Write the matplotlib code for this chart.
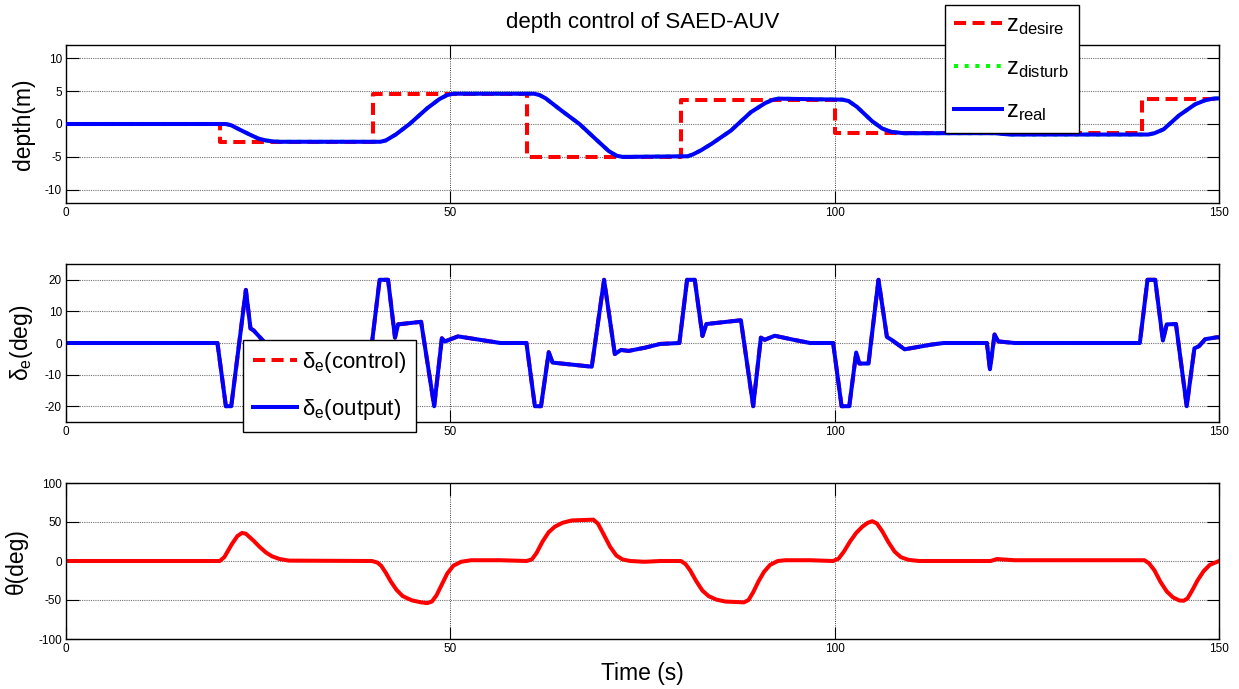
import matplotlib.pyplot as plt

plt.rcParams['font.family'] = ['Liberation Sans', 'DejaVu Sans']
plt.rcParams['mathtext.fontset'] = 'custom'
plt.rcParams['mathtext.rm'] = 'Liberation Sans'
plt.rcParams['mathtext.it'] = 'Liberation Sans'
plt.rcParams['axes.unicode_minus'] = False

# =========================
# data
# =========================
# depth: desired step command
t_desire = [0, 20, 20, 40, 40, 60, 60, 80, 80, 100, 100, 140, 140, 150]
z_desire = [0, 0, -2.7, -2.7, 4.6, 4.6, -5.0, -5.0, 3.7, 3.7, -1.3, -1.3, 3.85, 3.85]

# depth: real response
t_real = [0, 20.8, 21.5, 22.5, 23.9, 25.0, 26.0, 27.0, 27.8, 40.9, 41.6, 42.9, 44.7,
          47.0, 48.6, 49.6, 50.4, 60.9, 61.6, 62.4, 64.5, 66.8, 69.1, 70.6, 71.6,
          72.4, 80.9, 81.6, 82.6, 84.0, 86.5, 89.1, 91.0, 92.0, 92.7, 95.2, 101.0,
          101.8, 102.9, 104.9, 106.2, 107.4, 109.0, 120.8, 122.8, 140.8, 141.6,
          142.8, 144.8, 146.9, 148.2, 149.2, 150]
z_real = [0, 0, -0.2, -0.8, -1.6, -2.2, -2.5, -2.65, -2.7, -2.7, -2.5, -1.6, 0.0,
          2.4, 3.8, 4.4, 4.6, 4.6, 4.4, 3.9, 2.0, 0.0, -2.5, -4.1, -4.8,
          -5.0, -4.9, -4.6, -4.0, -3.0, -1.0, 1.8, 3.2, 3.7, 3.85, 3.8, 3.7,
          3.5, 2.6, 0.4, -0.7, -1.2, -1.4, -1.4, -1.6, -1.6, -1.4,
          -0.8, 1.3, 3.0, 3.6, 3.85, 3.9]

# elevator angle (control and output coincide)
t_de = [0, 19.7, 20.8, 21.5, 23.4, 24.0, 24.4, 26.4, 29.5, 32.1, 39.8, 40.8, 41.9,
        42.8, 43.2, 46.2, 47.9, 48.9, 49.3, 51.0, 56.5, 59.9, 61.0, 61.8, 62.8,
        63.3, 68.4, 70.0, 71.4, 72.2, 73.2, 75.3, 77.3, 79.8, 80.8, 81.8, 82.8,
        83.3, 87.8, 89.4, 90.4, 90.9, 92.2, 94.7, 96.8, 99.8, 100.9, 101.9, 102.8,
        103.2, 104.4, 105.7, 106.8, 107.4, 109.1, 112.6, 114.2, 119.8, 120.2,
        120.8, 121.3, 123.4, 139.7, 140.7, 141.7, 142.7, 143.2, 144.4, 145.8,
        146.8, 147.4, 148.2, 149.7, 150]
de = [0, 0, -20, -20, 16.8, 4.6, 4.0, -1.3, -1.0, 0, 0, 20, 20,
      1.7, 5.9, 6.7, -20, 1.5, 0.5, 2.1, 0, 0, -20, -20, -2.9,
      -6.2, -7.5, 20, -3.5, -2.2, -2.5, -1.5, -0.3, 0, 20, 20, 2.2,
      6.0, 7.2, -20, 1.7, 1.0, 2.3, 1.0, 0, 0, -20, -20, -3.0,
      -6.5, -6.5, 20, 1.9, 1.0, -2.0, -0.5, 0, 0, -8.3,
      2.7, 0.5, 0, 0, 20, 20, 0.8, 5.9, 6.0, -20,
      -1.7, -1.0, 1.2, 1.8, 1.8]

# pitch angle
t_theta = [0, 20.0, 20.6, 21.6, 22.3, 22.9, 23.4, 24.4, 25.2, 26.0, 26.8, 27.8,
           29.0, 39.8, 40.5, 41.0, 41.6, 42.3, 43.0, 43.8, 45.0, 46.2, 47.0, 47.6,
           48.2, 48.9, 49.6, 50.4, 51.4, 52.7, 56.5, 59.9, 60.6, 61.2, 62.0,
           62.8, 63.6, 64.6, 65.8, 68.6, 69.2, 69.9, 70.8, 71.6, 72.4, 73.4,
           75.3, 77.3, 80.0, 80.6, 81.2, 82.0, 82.8, 83.6, 84.6, 85.8, 88.2,
           88.8, 89.4, 90.1, 90.8, 91.6, 92.6, 93.6, 96.8, 99.8, 100.5, 101.2,
           102.0, 102.8, 103.6, 104.3, 104.9, 105.5, 106.2, 107.0, 107.8, 108.6,
           109.6, 111.0, 113.2, 120.3, 121.1, 123.4, 140.3, 140.9, 141.6, 142.4,
           143.2, 144.0, 144.8, 145.4, 145.9, 146.5, 147.2, 148.0, 148.8, 150]
theta = [0, 0, 5, 22, 32, 36, 35, 26, 18, 11, 6, 2.5,
         0.5, 0, -2, -6, -15, -27, -37, -45, -50.5, -53, -54, -52,
         -44, -30, -16, -6, -1, 1, 1, 0, 2, 10, 25,
         37, 44, 49, 52, 53, 48, 35, 18, 7, 2, 0,
         -1, 0, 0, -4, -12, -26, -38, -45, -49.5, -52, -53,
         -50, -40, -26, -14, -5, 0, 1, 1, 0, 3, 12,
         25, 36, 44, 49, 51, 48, 38, 24, 12, 5,
         1.5, 0, 0, 0, 2.5, 1, 1, -3, -12, -27,
         -39, -46.5, -50.5, -51, -48, -38, -25, -13, -5, 0]

x_ticks = [0, 50, 100, 150]

# =========================
# figure
# =========================
W, H = 1239, 689
fig = plt.figure(figsize=(W / 100, H / 100), dpi=100)


def ax_rect(x0, y0, x1, y1):
    return [x0 / W, 1 - y1 / H, (x1 - x0) / W, (y1 - y0) / H]


ax1 = fig.add_axes(ax_rect(66, 45, 1219, 203))
ax2 = fig.add_axes(ax_rect(66, 264, 1219, 422))
ax3 = fig.add_axes(ax_rect(66, 483, 1219, 639))


def style(ax, ylim, yticks):
    ax.set_xlim(0, 150)
    ax.set_ylim(*ylim)
    ax.set_xticks(x_ticks)
    ax.set_yticks(yticks)
    ax.tick_params(direction='in', top=True, right=True, length=9, width=0.8,
                   labelsize=8.5, pad=3)
    ax.xaxis.grid(True, color='black', linestyle=':', linewidth=0.6)
    ax.yaxis.grid(True, color='0.45', linestyle=(0, (1, 1)), linewidth=0.8)
    for s in ax.spines.values():
        s.set_linewidth(1.0)


lw = 2.9

# 1. depth
ax1.plot(t_desire, z_desire, color='red', linestyle='--', linewidth=lw,
         dashes=(3, 1.6), label=r'$\mathregular{z_{desire}}$', zorder=3)
ax1.plot(t_real, z_real, color='#00ff00', linestyle=':', linewidth=lw,
         label=r'$\mathregular{z_{disturb}}$', zorder=2)
ax1.plot(t_real, z_real, color='blue', linewidth=lw,
         label=r'$\mathregular{z_{real}}$', zorder=4)
style(ax1, (-12, 12), [-10, -5, 0, 5, 10])
ax1.set_ylabel('depth(m)', fontsize=16.5, labelpad=7)
ax1.set_title('depth control of SAED-AUV', fontsize=16, pad=12)

leg1 = fig.legend(handles=ax1.get_lines(), loc='upper left',
                  bbox_to_anchor=(945 / W, 1 - 5 / H), fontsize=17,
                  frameon=True, fancybox=False, edgecolor='black', framealpha=1,
                  handlelength=2.0, handletextpad=0.2, borderpad=0.4,
                  labelspacing=0.85, borderaxespad=0)
leg1.get_frame().set_linewidth(1.0)

# 2. elevator angle
l_ctrl, = ax2.plot(t_de, de, color='red', linestyle='--', linewidth=lw,
                   dashes=(3, 1.6), label=r'$\mathregular{\delta_e}$(control)')
l_out, = ax2.plot(t_de, de, color='blue', linewidth=lw,
                  label=r'$\mathregular{\delta_e}$(output)')
style(ax2, (-25, 25), [-20, -10, 0, 10, 20])
ax2.set_ylabel(r'$\mathregular{\delta_e}$(deg)', fontsize=16.5, labelpad=7)

leg2 = fig.legend(handles=[l_ctrl, l_out], loc='upper left',
                  bbox_to_anchor=(243 / W, 1 - 340 / H), fontsize=16,
                  frameon=True, fancybox=False, edgecolor='black', framealpha=1,
                  handlelength=2.0, handletextpad=0.2, borderpad=0.45,
                  labelspacing=1.0, borderaxespad=0)
leg2.get_frame().set_linewidth(1.0)

# 3. pitch angle
ax3.plot(t_theta, theta, color='red', linewidth=lw)
style(ax3, (-100, 100), [-100, -50, 0, 50, 100])
ax3.set_ylabel('θ(deg)', fontsize=16.5, labelpad=7)
ax3.set_xlabel('Time (s)', fontsize=16.5, labelpad=5)

fig.savefig('out.png', dpi=100)
